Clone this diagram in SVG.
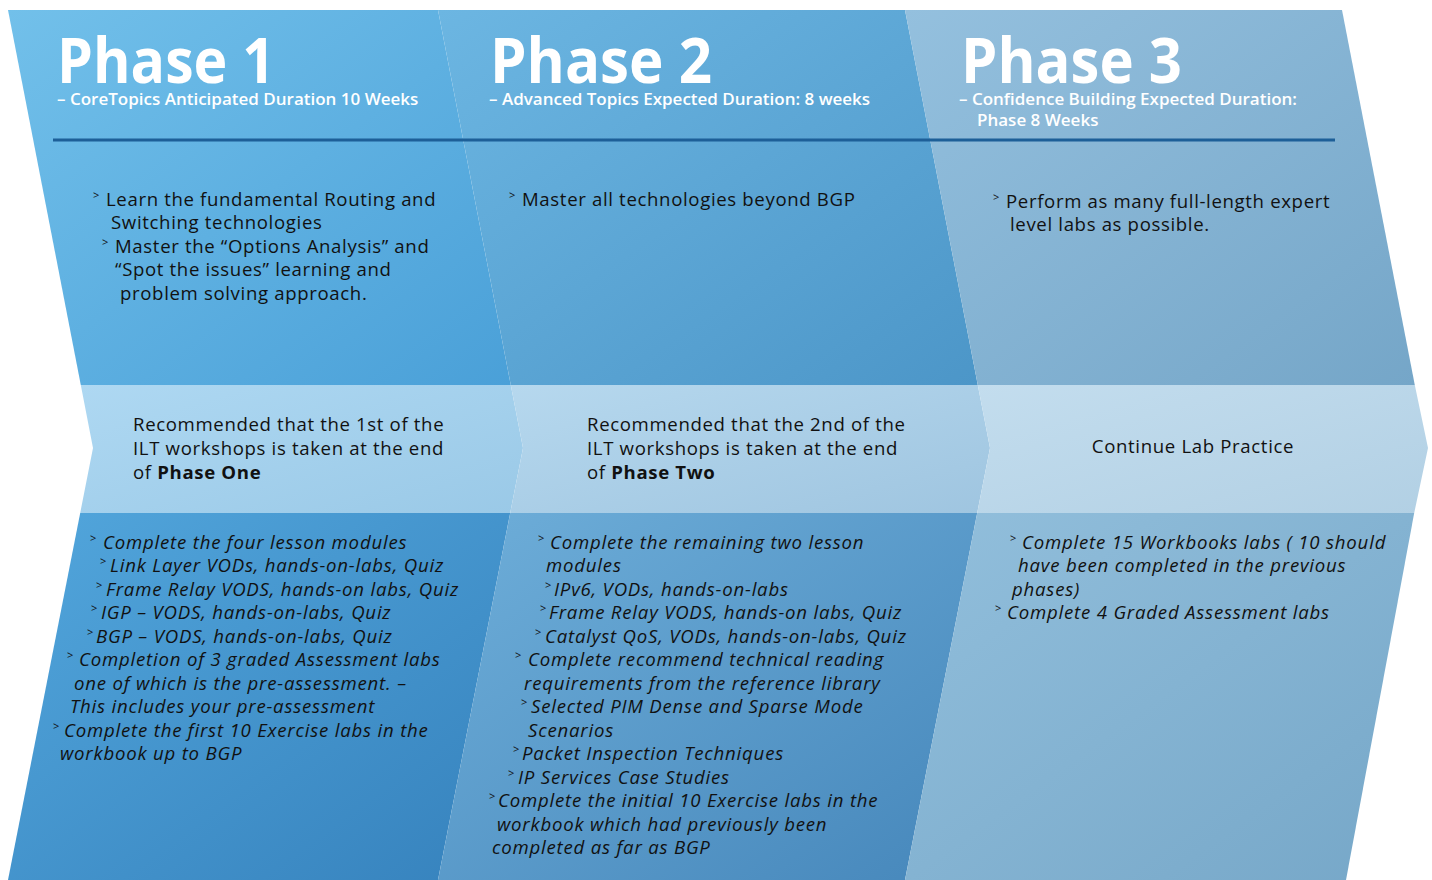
<svg xmlns="http://www.w3.org/2000/svg" width="1432" height="880" viewBox="0 0 1432 880">
<defs>
<style>
.h{font-family:"Open Sans","Noto Sans",sans-serif;font-weight:700;font-size:62px;fill:#fff;}
.s{font-family:"Open Sans","Noto Sans",sans-serif;font-weight:600;font-size:17px;fill:#fff;}
.p{font-family:"Open Sans","Noto Sans",sans-serif;font-size:18.6px;letter-spacing:0.65px;fill:#111;}
.i{font-family:"Open Sans","Noto Sans",sans-serif;font-size:18.6px;letter-spacing:0.8px;font-style:italic;fill:#111;}
.b{font-family:"Open Sans","Noto Sans",sans-serif;font-size:11px;fill:#111;}
.rule{stroke:#1d5f98;stroke-width:3;}
</style>
<linearGradient id="t1" x1="0" y1="0" x2="1" y2="1"><stop offset="0" stop-color="#72c0ea"/><stop offset="1" stop-color="#4aa0d8"/></linearGradient>
<linearGradient id="t2" x1="0" y1="0" x2="1" y2="1"><stop offset="0" stop-color="#6cb6e2"/><stop offset="1" stop-color="#4c96c8"/></linearGradient>
<linearGradient id="t3" x1="0" y1="0" x2="1" y2="1"><stop offset="0" stop-color="#94c0de"/><stop offset="1" stop-color="#75a6c8"/></linearGradient>
<linearGradient id="m1" x1="0" y1="0" x2="1" y2="1"><stop offset="0" stop-color="#aed8f2"/><stop offset="1" stop-color="#9ac9e7"/></linearGradient>
<linearGradient id="m2" x1="0" y1="0" x2="1" y2="1"><stop offset="0" stop-color="#b6d8ee"/><stop offset="1" stop-color="#9fc5e0"/></linearGradient>
<linearGradient id="m3" x1="0" y1="0" x2="1" y2="1"><stop offset="0" stop-color="#c3ddee"/><stop offset="1" stop-color="#b2d0e4"/></linearGradient>
<linearGradient id="b1" x1="0" y1="0" x2="1" y2="1"><stop offset="0" stop-color="#52a6dc"/><stop offset="1" stop-color="#3682bd"/></linearGradient>
<linearGradient id="b2" x1="0" y1="0" x2="1" y2="1"><stop offset="0" stop-color="#6eaed9"/><stop offset="1" stop-color="#4687bb"/></linearGradient>
<linearGradient id="b3" x1="0" y1="0" x2="1" y2="1"><stop offset="0" stop-color="#92bfdc"/><stop offset="1" stop-color="#76a7c8"/></linearGradient>
</defs>
<rect width="1432" height="880" fill="#fff"/>

<g id="phase1">
<polygon points="8,10 438,10 510.8,385 80.8,385" fill="url(#t1)"/>
<polygon points="80.8,385 510.8,385 523,448 510.2,513 80.2,513 93,448" fill="url(#m1)"/>
<polygon points="80.2,513 510.2,513 438,880 8,880" fill="url(#b1)"/>
<text><tspan class="h" x="57" y="83" textLength="218" lengthAdjust="spacingAndGlyphs">Phase 1</tspan><tspan class="s" x="57" y="105">– CoreTopics Anticipated Duration 10 Weeks</tspan></text>
<text class="b" x="93" y="199">&gt;</text><text class="p" x="106" y="206">Learn the fundamental Routing and</text>
<text class="p" x="111" y="229">Switching technologies</text>
<text class="b" x="102" y="246">&gt;</text><text class="p" x="115" y="253">Master the “Options Analysis” and</text>
<text class="p" x="115" y="276">“Spot the issues” learning and</text>
<text class="p" x="120" y="300">problem solving approach.</text>
<text class="p" x="133" y="431">Recommended that the 1st of the</text>
<text class="p" x="133" y="455">ILT workshops is taken at the end</text>
<text class="p" x="133" y="479">of <tspan font-weight="700">Phase One</tspan></text>
<text class="b" x="90" y="542">&gt;</text><text class="i" x="103" y="549">Complete the four lesson modules</text>
<text class="b" x="100" y="565">&gt;</text><text class="i" x="110" y="572">Link Layer VODs, hands-on-labs, Quiz</text>
<text class="b" x="96" y="589">&gt;</text><text class="i" x="106" y="596">Frame Relay VODS, hands-on labs, Quiz</text>
<text class="b" x="91" y="612">&gt;</text><text class="i" x="101" y="619">IGP – VODS, hands-on-labs, Quiz</text>
<text class="b" x="87" y="636">&gt;</text><text class="i" x="96" y="643">BGP – VODS, hands-on-labs, Quiz</text>
<text class="b" x="67" y="659">&gt;</text><text class="i" x="79" y="666">Completion of 3 graded Assessment labs</text>
<text class="i" x="74" y="690">one of which is the pre-assessment. –</text>
<text class="i" x="70" y="713">This includes your pre-assessment</text>
<text class="b" x="53" y="730">&gt;</text><text class="i" x="64" y="737">Complete the first 10 Exercise labs in the</text>
<text class="i" x="60" y="760">workbook up to BGP</text>
</g>

<g id="phase2">
<polygon points="438,10 905,10 977.8,385 510.8,385" fill="url(#t2)"/>
<polygon points="510.8,385 977.8,385 990,448 977.2,513 510.2,513 523,448" fill="url(#m2)"/>
<polygon points="510.2,513 977.2,513 905,880 438,880" fill="url(#b2)"/>
<text><tspan class="h" x="490" y="83" textLength="222" lengthAdjust="spacingAndGlyphs">Phase 2</tspan><tspan class="s" x="489" y="105">– Advanced Topics Expected Duration: 8 weeks</tspan></text>
<text class="b" x="509" y="199">&gt;</text><text class="p" x="522" y="206">Master all technologies beyond BGP</text>
<text class="p" x="587" y="431">Recommended that the 2nd of the</text>
<text class="p" x="587" y="455">ILT workshops is taken at the end</text>
<text class="p" x="587" y="479">of <tspan font-weight="700">Phase Two</tspan></text>
<text class="b" x="538" y="542">&gt;</text><text class="i" x="550" y="549">Complete the remaining two lesson</text>
<text class="i" x="546" y="572">modules</text>
<text class="b" x="545" y="589">&gt;</text><text class="i" x="554" y="596">IPv6, VODs, hands-on-labs</text>
<text class="b" x="540" y="612">&gt;</text><text class="i" x="549" y="619">Frame Relay VODS, hands-on labs, Quiz</text>
<text class="b" x="535" y="636">&gt;</text><text class="i" x="545" y="643">Catalyst QoS, VODs, hands-on-labs, Quiz</text>
<text class="b" x="515" y="659">&gt;</text><text class="i" x="528" y="666">Complete recommend technical reading</text>
<text class="i" x="524" y="690">requirements from the reference library</text>
<text class="b" x="521" y="706">&gt;</text><text class="i" x="531" y="713">Selected PIM Dense and Sparse Mode</text>
<text class="i" x="528" y="737">Scenarios</text>
<text class="b" x="513" y="753">&gt;</text><text class="i" x="522" y="760">Packet Inspection Techniques</text>
<text class="b" x="508" y="777">&gt;</text><text class="i" x="518" y="784">IP Services Case Studies</text>
<text class="b" x="489" y="800">&gt;</text><text class="i" x="498" y="807">Complete the initial 10 Exercise labs in the</text>
<text class="i" x="497" y="831">workbook which had previously been</text>
<text class="i" x="492" y="854">completed as far as BGP</text>
</g>

<g id="phase3">
<polygon points="905,10 1342,10 1414.8,385 977.8,385" fill="url(#t3)"/>
<polygon points="977.8,385 1414.8,385 1428,448 1414.2,513 977.2,513 990,448" fill="url(#m3)"/>
<polygon points="977.2,513 1414.2,513 1346,880 905,880" fill="url(#b3)"/>
<text><tspan class="h" x="961" y="83" textLength="221" lengthAdjust="spacingAndGlyphs">Phase 3</tspan><tspan class="s" x="959" y="105">– Confidence Building Expected Duration:</tspan><tspan class="s" x="977" y="126">Phase 8 Weeks</tspan></text>
<text class="b" x="993" y="201">&gt;</text><text class="p" x="1006" y="208">Perform as many full-length expert</text>
<text class="p" x="1010" y="231">level labs as possible.</text>
<text class="p" x="1193" y="453" text-anchor="middle">Continue Lab Practice</text>
<text class="b" x="1010" y="542">&gt;</text><text class="i" x="1022" y="549">Complete 15 Workbooks labs ( 10 should</text>
<text class="i" x="1018" y="572">have been completed in the previous</text>
<text class="i" x="1012" y="596">phases)</text>
<text class="b" x="995" y="612">&gt;</text><text class="i" x="1007" y="619">Complete 4 Graded Assessment labs</text>
</g>

<g id="connectors">
<line class="rule" x1="53" y1="140" x2="1335" y2="140"/>
</g>
</svg>
